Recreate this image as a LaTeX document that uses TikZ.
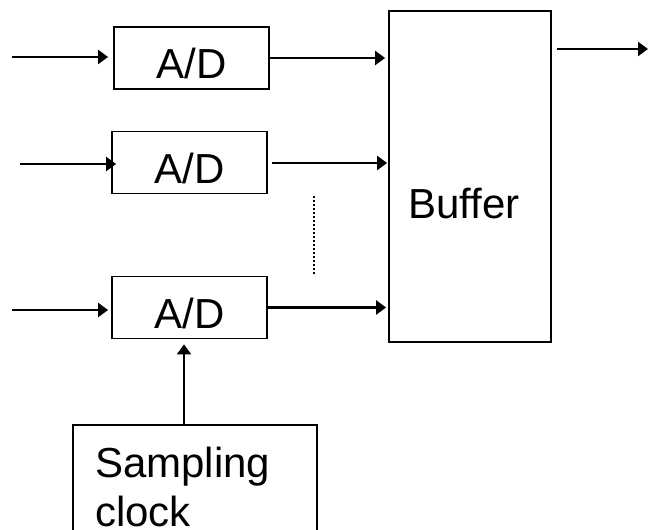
\documentclass[tikz,border=0pt]{standalone}
\usepackage{fontspec}
\setmainfont{Liberation Sans}
\usetikzlibrary{arrows.meta}
\begin{document}
\begin{tikzpicture}[x=1bp,y=-1bp,
  box/.style={draw, line width=1.8bp, inner sep=0pt, font=\fontsize{42bp}{49bp}\selectfont},
  adbox/.style={box, minimum width=155bp, minimum height=62bp, text height=42bp, text depth=0pt},
  arr/.style={line width=2.2bp, -{Triangle[length=10bp,width=14bp]}},
  dots/.style={line width=1.6bp, dash pattern=on 1.6bp off 2.4bp}
]
\useasboundingbox (0,0) rectangle (648,530);
\clip (0,0) rectangle (648,530);

% converters
\node[adbox] (ad1) at (191.5,58) {A/D};
\node[adbox] (ad2) at (189.5,162.5) {A/D};
\node[adbox] (ad3) at (189.5,307.5) {A/D};

% buffer
\node[box, minimum width=162bp, minimum height=331bp, text height=83bp, text depth=0pt]
  (buf) at (470,176.5) {Buffer\hspace*{12bp}};

% sampling clock (runs off the bottom edge)
\node[box, anchor=text, text width=200bp, inner xsep=22bp, inner ysep=21bp,
  text height=31bp, text depth=100bp, align=left] (clk) at (95,477) {Sampling\\clock};

% analog inputs
\coordinate (i1) at (12,57);
\coordinate (i2) at (20,164);
\coordinate (i3) at (12,310);
\draw[arr, shorten >=5bp] (i1) -- (i1 -| ad1.west);
\draw[arr] (i2) -- ([xshift=5bp]i2 -| ad2.west);
\draw[arr, shorten >=3bp] (i3) -- (i3 -| ad3.west);

% converter outputs into the buffer
\draw[arr, shorten >=3bp] (ad1.east) -- (ad1.east -| buf.west);
\draw[arr, shorten <=4bp, shorten >=1bp] ([yshift=-0.5bp]ad2.east) -- ([yshift=-0.5bp]ad2.east -| buf.west);
\draw[arr, shorten >=2bp] (ad3.east) -- (ad3.east -| buf.west);

% buffer output
\coordinate (o) at (648,49);
\draw[arr, shorten <=5bp] (o -| buf.east) -- (o);

% clock into the last converter
\draw[arr] ([xshift=-5.5bp]ad3.south |- clk.north) -- ([xshift=-5.5bp,yshift=-5bp]ad3.south);

% omitted channels
\draw[dots] (314,196) -- (314,274);
\end{tikzpicture}
\end{document}
